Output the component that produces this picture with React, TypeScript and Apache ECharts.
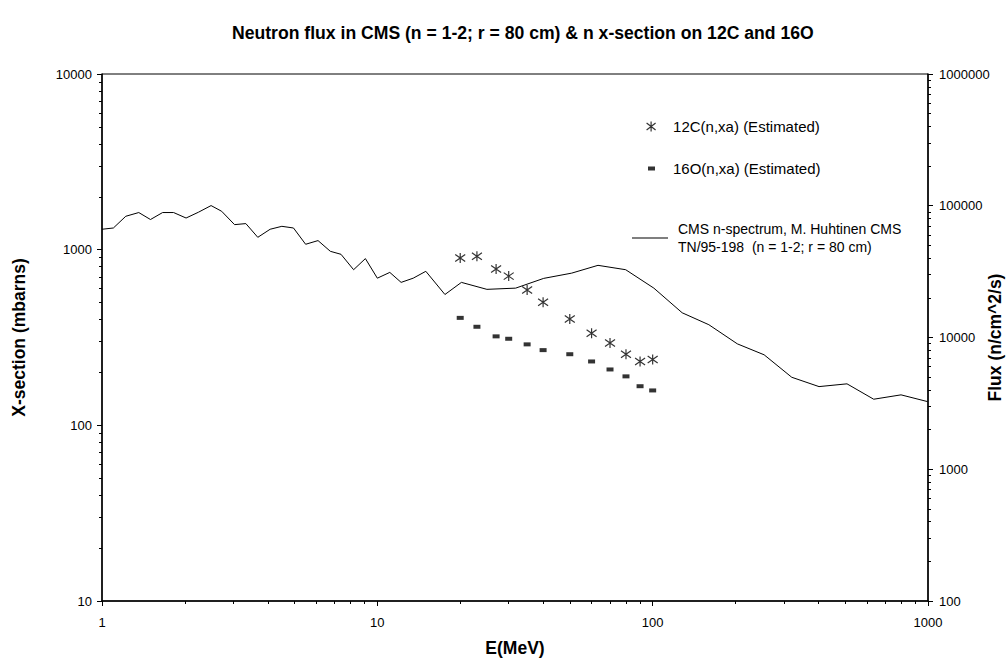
import React, { useEffect, useRef } from "react";
import * as echarts from "echarts";

// CMS neutron spectrum (right axis, n/cm^2/s) vs energy (MeV)
const fluxEnergy = [
  1, 1.1, 1.22, 1.36, 1.5, 1.66, 1.82, 2.02, 2.24, 2.49, 2.72, 3.03, 3.33, 3.68,
  4.08, 4.5, 4.96, 5.49, 6.09, 6.75, 7.38, 8.2, 9.05, 10, 11.1, 12.2, 13.5, 15,
  17.6, 20.2, 25, 31.8, 40.2, 50.8, 63.3, 79.8, 101, 128, 160, 203, 254, 320,
  402, 508, 635, 798, 997,
];
const fluxValues = [
  66300, 67800, 83200, 88800, 78600, 88800, 88800, 80700, 89300, 100300, 90800,
  71900, 73200, 57600, 66300, 69800, 67800, 51000, 54400, 45100, 42800, 32700,
  39700, 28200, 31200, 26200, 28200, 31800, 21200, 26200, 23200, 23700, 28100,
  30800, 35300, 32700, 23700, 15400, 12500, 8950, 7390, 4990, 4240, 4450, 3400,
  3670, 3260,
];

// 12C(n,xa) estimated cross-section (mbarns)
const c12Energy = [20, 23, 27, 30, 35, 40, 50, 60, 70, 80, 90, 100];
const c12XSection = [897, 916, 776, 707, 589, 502, 403, 334, 294, 254, 231, 237];

// 16O(n,xa) estimated cross-section (mbarns)
const o16Energy = [20, 23, 27, 30, 35, 40, 50, 60, 70, 80, 90, 100];
const o16XSection = [409, 364, 321, 311, 289, 268, 254, 231, 208, 190, 167, 158];

// minor tick values
const xMinorTicks = [2, 3, 4, 5, 6, 7, 8, 9, 20, 30, 40, 50, 60, 70, 80, 90, 200, 300, 400, 500, 600, 700, 800, 900];
const yLeftMinorTicks = [20, 30, 40, 50, 60, 70, 80, 90, 200, 300, 400, 500, 600, 700, 800, 900, 2000, 3000, 4000, 5000, 6000, 7000, 8000, 9000];
const yRightMinorTicks = [
  200, 300, 400, 500, 600, 700, 800, 900, 2000, 3000, 4000, 5000, 6000, 7000, 8000, 9000,
  20000, 30000, 40000, 50000, 60000, 70000, 80000, 90000, 200000, 300000, 400000, 500000,
  600000, 700000, 800000, 900000,
];

const TITLE = "Neutron flux in CMS (n = 1-2; r = 80 cm) & n x-section on 12C and 16O";
const C12_NAME = "12C(n,xa) (Estimated)";
const O16_NAME = "16O(n,xa) (Estimated)";
const FLUX_NAME = "CMS n-spectrum, M. Huhtinen CMS\nTN/95-198  (n = 1-2; r = 80 cm)";

const FONT = "'Liberation Sans', Arial, Helvetica, sans-serif";
const STAR = "path://M5,0L5,10M0.5,1.5L9.5,8.5M0.5,8.5L9.5,1.5";

const zip = (a: number[], b: number[]) => a.map((v, i) => [v, b[i]]);
const fmt = (v: number) => String(Math.round(v));

export default function App() {
  const ref = useRef<HTMLDivElement>(null);
  useEffect(() => {
    document.body.style.margin = "0";
    if (!ref.current) return;
    const chart = echarts.init(ref.current, undefined, { renderer: "svg" });
    const mainAxisLine = { show: true, lineStyle: { color: "#000", width: 1.5 } };
    const nameStyle = { fontWeight: "bold", fontSize: 17.5, color: "#000", fontFamily: FONT };
    const labelStyle = { color: "#000", fontSize: 13, fontFamily: FONT, formatter: fmt };
    const starStyle = { color: "rgba(0,0,0,0)", borderColor: "#000", borderWidth: 1.2 };
    const minorAxis = (extra: any) => ({
      type: "log",
      logBase: 10,
      axisLine: { show: false },
      axisLabel: { show: false },
      splitLine: { show: false },
      ...extra,
    });
    chart.setOption({
      animation: false,
      backgroundColor: "#fff",
      textStyle: { fontFamily: FONT },
      title: {
        text: TITLE,
        left: 232,
        top: 24,
        padding: 0,
        textStyle: { fontSize: 17.6, fontWeight: "bold", color: "#000", fontFamily: FONT },
      },
      grid: {
        left: 102,
        right: 80,
        top: 74,
        bottom: 66,
        show: true,
        borderColor: "#000",
        borderWidth: 1,
        containLabel: false,
        outerBoundsMode: "none",
      },
      legend: [
        {
          data: [{ name: C12_NAME, icon: STAR, itemStyle: starStyle }],
          left: 646,
          top: 119,
          padding: 0,
          itemWidth: 10,
          itemHeight: 10,
          selectedMode: false,
          textStyle: { fontSize: 15, color: "#000", fontFamily: FONT, padding: [0, 0, 0, 12] },
        },
        {
          data: [{ name: O16_NAME, icon: "rect", itemStyle: { color: "#000" } }],
          left: 648,
          top: 161,
          padding: 0,
          itemWidth: 7,
          itemHeight: 4,
          selectedMode: false,
          textStyle: { fontSize: 15, color: "#000", fontFamily: FONT, padding: [0, 0, 0, 13] },
        },
        {
          data: [{ name: FLUX_NAME, icon: "rect", itemStyle: { color: "#000" } }],
          left: 632,
          top: 211,
          padding: 0,
          itemWidth: 36,
          itemHeight: 1,
          selectedMode: false,
          textStyle: {
            fontSize: 14,
            color: "#000",
            fontFamily: FONT,
            lineHeight: 18,
            padding: [18, 0, 0, 5],
          },
        },
      ],
      xAxis: [
        {
          type: "log",
          logBase: 10,
          min: 1,
          max: 1000,
          position: "bottom",
          name: "E(MeV)",
          nameLocation: "middle",
          nameGap: 38,
          nameMoveOverlap: false,
          nameTextStyle: nameStyle,
          axisLine: mainAxisLine,
          axisTick: { show: true, inside: false, length: 5, lineStyle: { color: "#000" } },
          axisLabel: { ...labelStyle, margin: 15 },
          splitLine: { show: false },
        },
        minorAxis({
          min: 1,
          max: 1000,
          position: "bottom",
          axisTick: { show: true, length: 3, customValues: xMinorTicks, lineStyle: { color: "#000" } },
        }),
      ],
      yAxis: [
        {
          type: "log",
          logBase: 10,
          min: 10,
          max: 10000,
          position: "left",
          name: "X-section (mbarns)",
          nameLocation: "middle",
          nameRotate: 90,
          nameGap: 74,
          nameMoveOverlap: false,
          nameTextStyle: nameStyle,
          axisLine: mainAxisLine,
          axisTick: { show: true, inside: false, length: 5, lineStyle: { color: "#000" } },
          axisLabel: { ...labelStyle, margin: 10 },
          splitLine: { show: false },
        },
        {
          type: "log",
          logBase: 10,
          min: 100,
          max: 1000000,
          position: "right",
          name: "Flux (n/cm^2/s)",
          nameLocation: "middle",
          nameRotate: 90,
          nameGap: 58,
          nameMoveOverlap: false,
          nameTextStyle: nameStyle,
          axisLine: mainAxisLine,
          axisTick: { show: true, inside: false, length: 5, lineStyle: { color: "#000" } },
          axisLabel: { ...labelStyle, margin: 11 },
          splitLine: { show: false },
        },
        minorAxis({
          min: 10,
          max: 10000,
          position: "left",
          axisTick: { show: true, length: 3, customValues: yLeftMinorTicks, lineStyle: { color: "#000" } },
        }),
        minorAxis({
          min: 100,
          max: 1000000,
          position: "right",
          axisTick: { show: true, length: 3, customValues: yRightMinorTicks, lineStyle: { color: "#000" } },
        }),
      ],
      series: [
        {
          name: FLUX_NAME,
          type: "line",
          xAxisIndex: 0,
          yAxisIndex: 1,
          data: zip(fluxEnergy, fluxValues),
          symbol: "none",
          showSymbol: false,
          lineStyle: { color: "#000", width: 1 },
          itemStyle: { color: "#000" },
          z: 2,
        },
        {
          name: C12_NAME,
          type: "scatter",
          xAxisIndex: 0,
          yAxisIndex: 0,
          data: zip(c12Energy, c12XSection),
          symbol: STAR,
          symbolSize: 10,
          itemStyle: starStyle,
          z: 3,
        },
        {
          name: O16_NAME,
          type: "scatter",
          xAxisIndex: 0,
          yAxisIndex: 0,
          data: zip(o16Energy, o16XSection),
          symbol: "rect",
          symbolSize: [7, 4],
          itemStyle: { color: "#000" },
          z: 3,
        },
      ],
    });
    return () => chart.dispose();
  }, []);
  return <div ref={ref} style={{ width: 1008, height: 667 }} />;
}
